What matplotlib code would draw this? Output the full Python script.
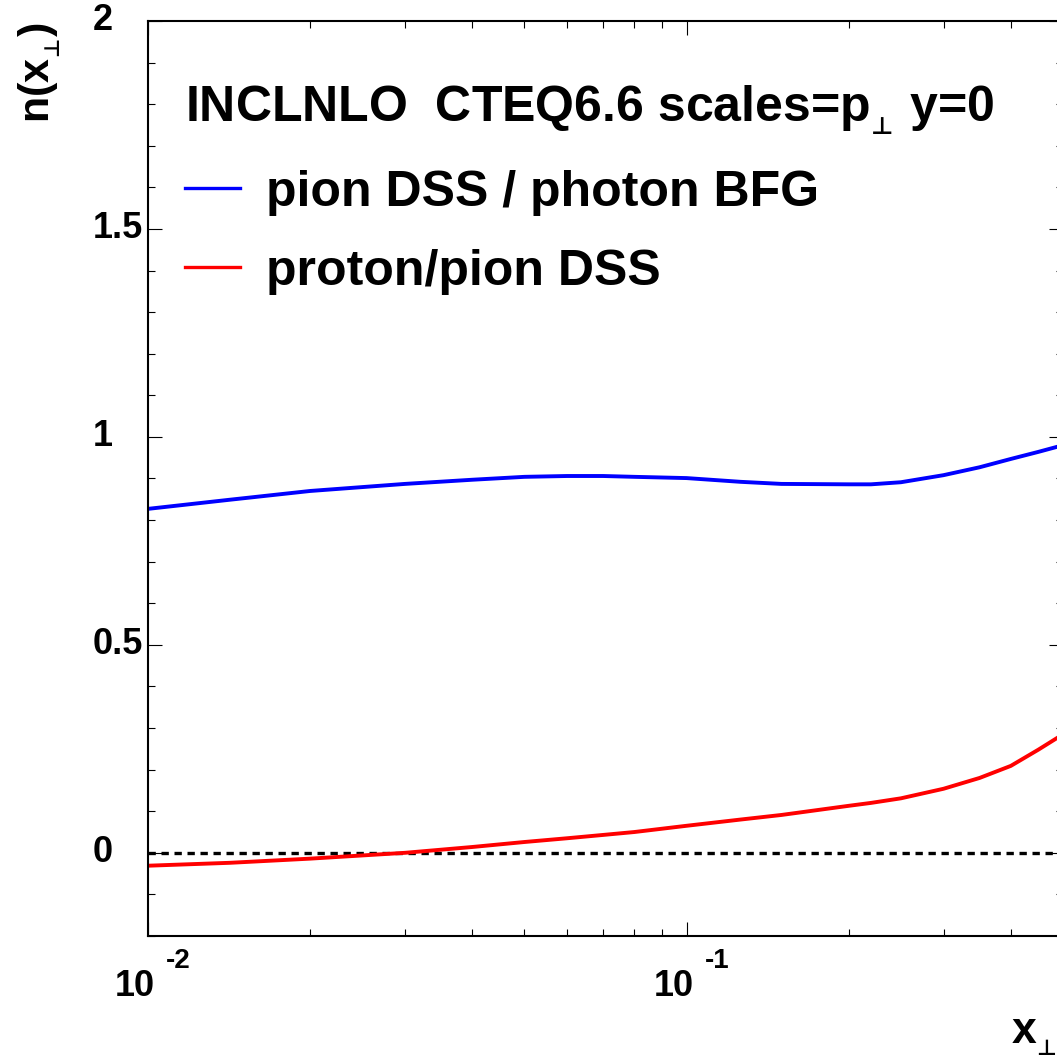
import numpy as np
import matplotlib
matplotlib.use("Agg")
from matplotlib import pyplot as plt
from matplotlib import ticker
from matplotlib import transforms

plt.rcParams["font.family"] = ["Liberation Sans", "DejaVu Sans"]
plt.rcParams["font.weight"] = "bold"
plt.rcParams["mathtext.fontset"] = "custom"
plt.rcParams["mathtext.rm"] = "Liberation Sans:bold"
plt.rcParams["mathtext.it"] = "Liberation Sans:bold"
plt.rcParams["mathtext.bf"] = "Liberation Sans:bold"
plt.rcParams["mathtext.sf"] = "DejaVu Sans"

# x_perp grid and the two n(x_perp) curves
x_perp = [0.01, 0.0142, 0.02, 0.03, 0.04, 0.05, 0.06, 0.07, 0.08, 0.1,
          0.126, 0.15, 0.2, 0.22, 0.25, 0.3, 0.35, 0.4, 0.45, 0.5]
n_pion_photon = [0.827, 0.849, 0.870, 0.887, 0.897, 0.904, 0.906, 0.906, 0.904, 0.901,
                 0.892, 0.887, 0.886, 0.886, 0.891, 0.908, 0.927, 0.947, 0.964, 0.980]
n_proton_pion = [-0.031, -0.024, -0.014, 0.000, 0.014, 0.026, 0.035, 0.043, 0.050, 0.065,
                 0.080, 0.091, 0.113, 0.120, 0.131, 0.154, 0.180, 0.209, 0.248, 0.285]

series_labels = ["pion DSS / photon BFG", "proton/pion DSS"]
series_colors = ["#0000ff", "#ff0000"]
PERP = r"$_{_{\mathsf{⊥}}}$"
legend_title = "INCLNLO  CTEQ6.6 scales=p" + PERP + " y=0"

y_ticks = [0, 0.5, 1, 1.5, 2]
y_tick_labels = ["0", "0.5", "1", "1.5", "2"]
x_ticks = [0.01, 0.1]
x_tick_exponents = ["-2", "-1"]

fig = plt.figure(figsize=(10.57, 10.56), dpi=100)
ax = fig.add_axes([148 / 1057, 1 - 936 / 1056, 915 / 1057, 915 / 1056])

ax.axhline(0, color="black", lw=2.4, dashes=(2.2, 1.7))
for vals, label, color in zip([n_pion_photon, n_proton_pion], series_labels, series_colors):
    ax.plot(x_perp, vals, color=color, lw=2.8, label=label)

ax.set_xscale("log")
ax.set_xlim(0.01, 0.5)
ax.set_ylim(-0.2, 2.0)

for side in ax.spines.values():
    side.set_linewidth(1.5)

ax.yaxis.set_major_locator(ticker.FixedLocator(y_ticks))
ax.yaxis.set_minor_locator(ticker.MultipleLocator(0.1))
ax.xaxis.set_major_locator(ticker.FixedLocator(x_ticks))
ax.xaxis.set_minor_locator(ticker.LogLocator(base=10, subs=np.arange(2, 10)))
ax.tick_params(which="both", direction="in", top=True, right=True,
               labelleft=False, labelbottom=False, width=0.8)
ax.tick_params(which="major", length=10)
ax.tick_params(which="minor", length=5)

# ROOT-style tick labels
for val, lab in zip(y_ticks, y_tick_labels):
    dx = -35 if "." not in lab else -5
    tr = ax.get_yaxis_transform() + transforms.ScaledTranslation(dx / 100, 0, fig.dpi_scale_trans)
    ax.text(0, val, lab, transform=tr, ha="right", va="center", fontsize=26, fontweight="bold")

for val, exp in zip(x_ticks, x_tick_exponents):
    tr = ax.get_xaxis_transform() + transforms.ScaledTranslation(7 / 100, -50 / 100, fig.dpi_scale_trans)
    ax.text(val, 0, "10", transform=tr, ha="right", va="center", fontsize=26, fontweight="bold")
    tr2 = ax.get_xaxis_transform() + transforms.ScaledTranslation(18 / 100, -25 / 100, fig.dpi_scale_trans)
    ax.text(val, 0, exp, transform=tr2, ha="left", va="center", fontsize=20, fontweight="bold")

fig.text(1 - 1 / 1057, 1 - 1058 / 1056, "x" + PERP, ha="right", va="bottom", fontsize=32, fontweight="bold")
fig.text(40 / 1057, 1 - 22 / 1056, "n(x" + PERP + ")", ha="center", va="top", rotation=90,
         fontsize=31, fontweight="bold")

leg = ax.legend(loc="upper left", bbox_to_anchor=(37 / 915, 1 - 62 / 915), frameon=False,
                title=legend_title, alignment="left", fontsize=36,
                title_fontproperties={"size": 36, "weight": "bold"},
                handlelength=1.1, handletextpad=0.52, labelspacing=0.66,
                borderaxespad=0, borderpad=0)
for line in leg.get_lines():
    line.set_linewidth(2.4)

fig.savefig("out.png", dpi=100)
